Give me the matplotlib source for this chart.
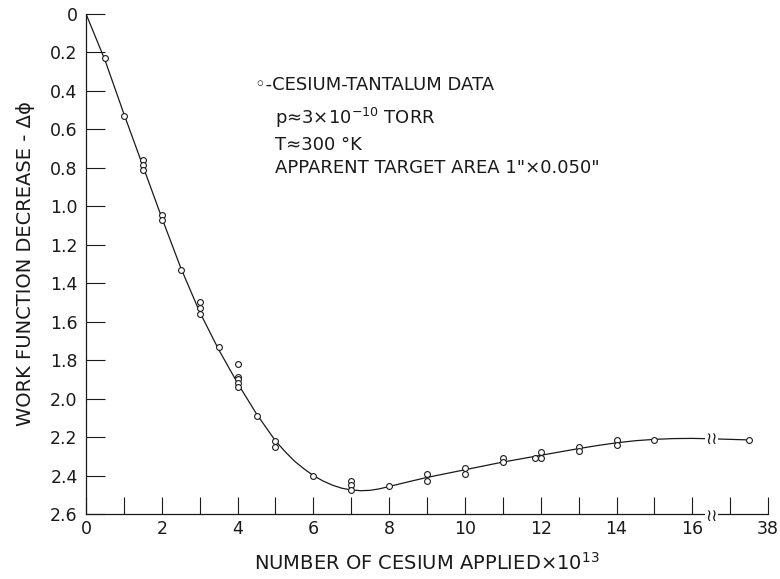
import numpy as np
import matplotlib
matplotlib.use('Agg')
import matplotlib.pyplot as plt

plt.rcParams['font.family'] = ['DejaVu Sans']
plt.rcParams['mathtext.fontset'] = 'dejavusans'

# Measured data points (x in plot units; 17.5 sits past the axis break)
data_x = [0.5, 1.0, 1.5, 1.5, 1.5, 2.0, 2.0, 2.5, 3.0, 3.0, 3.0, 3.5,
          4.0, 4.0, 4.0, 4.0, 4.0, 4.5, 5.0, 5.0, 6.0, 7.0, 7.0, 7.0,
          8.0, 9.0, 9.0, 10.0, 10.0, 11.0, 11.0, 11.85, 12.0, 12.0,
          13.0, 13.0, 14.0, 14.0, 15.0, 17.5]
data_y = [0.23, 0.53, 0.76, 0.785, 0.81, 1.045, 1.07, 1.33, 1.50, 1.53, 1.56, 1.73,
          1.82, 1.89, 1.90, 1.92, 1.94, 2.09, 2.22, 2.25, 2.40, 2.43, 2.45, 2.475,
          2.455, 2.39, 2.43, 2.36, 2.39, 2.31, 2.33, 2.31, 2.28, 2.31,
          2.25, 2.27, 2.215, 2.24, 2.215, 2.216]

# Fitted curve
curve_x = [0.0, 0.5, 1.0, 1.5, 2.0, 2.5, 3.0, 3.5, 4.0, 4.5, 5.0, 5.25, 5.5, 5.75, 6.0,
           6.25, 6.5, 6.75, 7.0, 7.25, 7.5, 7.75, 8.0, 8.5, 9.0, 9.5, 10.0, 11.0, 12.0,
           13.0, 13.5, 14.0, 14.5, 15.0, 15.5, 16.0, 16.5, 17.5]
curve_y = [0.0, 0.24, 0.52, 0.79, 1.06, 1.32, 1.55, 1.745, 1.92, 2.08, 2.22, 2.275, 2.325,
           2.365, 2.40, 2.428, 2.45, 2.466, 2.475, 2.479, 2.477, 2.469, 2.457, 2.433, 2.41,
           2.39, 2.37, 2.33, 2.295, 2.26, 2.244, 2.23, 2.219, 2.212, 2.208, 2.207, 2.209, 2.215]

break_x = 16.5
xtick_pos = [0, 2, 4, 6, 8, 10, 12, 14, 16, 18]
xtick_labels = ['0', '2', '4', '6', '8', '10', '12', '14', '16', '38']
ytick_pos = np.round(np.arange(0, 2.61, 0.2), 1)
ytick_labels = ['0'] + ['%.1f' % v for v in ytick_pos[1:]]

ink = '#1a1a1a'

fig = plt.figure(figsize=(7.8, 5.79), dpi=100)
ax = fig.add_axes([0.1103, 0.1123, 0.8744, 0.8636])

ax.plot(curve_x, curve_y, color=ink, lw=0.9)
ax.plot(data_x, data_y, 'o', mfc='white', mec=ink, ms=4.2, mew=0.8)

ax.set_xlim(0, 18)
ax.set_ylim(2.6, 0)
ax.spines['top'].set_visible(False)
ax.spines['right'].set_visible(False)
for s in ['left', 'bottom']:
    ax.spines[s].set_linewidth(0.9)
    ax.spines[s].set_color(ink)

ax.set_xticks(xtick_pos)
ax.set_xticklabels(xtick_labels)
ax.set_xticks(range(1, 19, 2), minor=True)
ax.set_yticks(ytick_pos)
ax.set_yticklabels(ytick_labels)
ax.tick_params(axis='x', which='both', direction='in', length=12.5, width=0.8,
               color=ink, pad=4, labelsize=12.5, labelcolor=ink)
ax.tick_params(axis='y', direction='in', length=14, width=0.8, color=ink,
               pad=6, labelsize=12.5, labelcolor=ink)

ax.set_xlabel(r'NUMBER OF CESIUM APPLIED$\times$10$^{13}$', fontsize=14, color=ink, labelpad=10)
ax.set_ylabel('WORK FUNCTION DECREASE - Δϕ', fontsize=14, color=ink, labelpad=11)

# axis break marks
ax.text(break_x, 2.21, '≀≀', fontsize=12, ha='center', va='center', color=ink,
        bbox=dict(fc='white', ec='none', pad=0.3))
ax.text(break_x, 2.61, '≀≀', fontsize=12, ha='center', va='center', color=ink,
        bbox=dict(fc='white', ec='none', pad=0.3), clip_on=False)

# legend / notes
ax.text(4.45, 0.37, '◦-CESIUM-TANTALUM DATA', fontsize=13, color=ink, va='center')
ax.text(5.0, 0.54, 'p≈3×10$^{-10}$ TORR', fontsize=13, color=ink, va='center')
ax.text(5.0, 0.68, 'T≈300 °K', fontsize=13, color=ink, va='center')
ax.text(5.0, 0.80, 'APPARENT TARGET AREA 1"×0.050"', fontsize=13, color=ink, va='center')

fig.savefig('out.png', dpi=100)
